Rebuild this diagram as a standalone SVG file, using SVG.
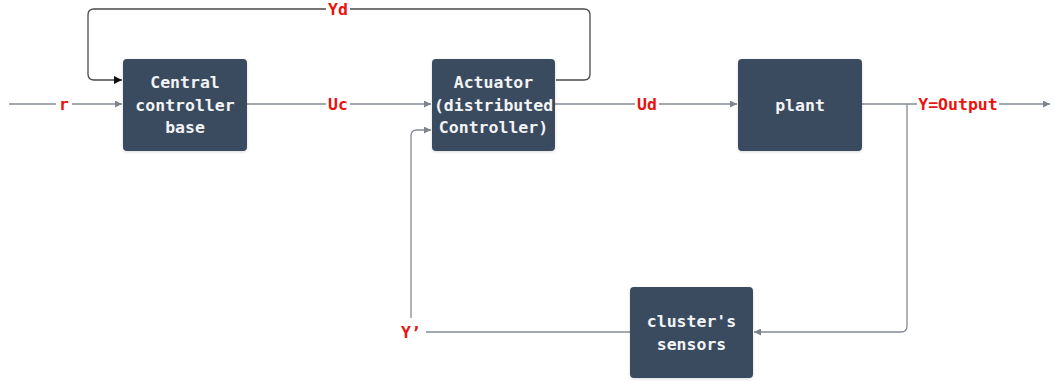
<svg xmlns="http://www.w3.org/2000/svg" width="1054" height="381" viewBox="0 0 1054 381">
<defs>
<marker id="ag" viewBox="0 0 10 10" refX="10" refY="5" markerWidth="7" markerHeight="7" markerUnits="userSpaceOnUse" orient="auto"><path d="M0,0 L10,5 L0,10 z" fill="#7d848d"/></marker>
<marker id="ab" viewBox="0 0 10 10" refX="10" refY="5" markerWidth="8" markerHeight="8" markerUnits="userSpaceOnUse" orient="auto"><path d="M0,0 L10,5 L0,10 z" fill="#111"/></marker>
<filter id="sh" x="-10%" y="-10%" width="120%" height="125%"><feDropShadow dx="0" dy="1" stdDeviation="1.5" flood-color="#000" flood-opacity="0.15"/></filter>
</defs>
<style>
.box{fill:#3a4b5f;filter:url(#sh)}
.t{font-family:"DejaVu Sans Mono","Liberation Mono",monospace;font-weight:bold;font-size:16.5px;fill:#f2f4f6;text-anchor:middle}
.l{font-family:"DejaVu Sans Mono","Liberation Mono",monospace;font-weight:bold;font-size:16.5px;fill:#e8140f;text-anchor:middle}
.c{fill:none;stroke:#858b93;stroke-width:1.3}
.d{fill:none;stroke:#4a4a4a;stroke-width:1.3}
.bg{fill:#fff}
</style>
<rect width="1054" height="381" fill="#fff"/>
<g id="connectors">
<path class="c" d="M9,104 H122" marker-end="url(#ag)"/>
<path class="c" d="M247,104 H431" marker-end="url(#ag)"/>
<path class="c" d="M555,104 H737" marker-end="url(#ag)"/>
<path class="c" d="M862,104 H1050" marker-end="url(#ag)"/>
<path class="c" d="M907,104 V326 Q907,332 901,332 H754" marker-end="url(#ag)"/>
<path class="c" d="M630,332 H426"/>
<path class="c" d="M411,318 V136 Q411,130 417,130 H431" marker-end="url(#ag)"/>
<path class="d" d="M556,80 H584 Q590,80 590,74 V15 Q590,9 584,9 H94 Q88,9 88,15 V74 Q88,80 94,80 H122" marker-end="url(#ab)"/>
<rect class="bg" x="56" y="95" width="16" height="18"/>
<text class="l" x="64" y="110">r</text>
<rect class="bg" x="326" y="95" width="24" height="18"/>
<text class="l" x="338" y="110">Uc</text>
<rect class="bg" x="635" y="95" width="24" height="18"/>
<text class="l" x="647" y="110">Ud</text>
<rect class="bg" x="326" y="0" width="24" height="18"/>
<text class="l" x="338" y="14.5">Yd</text>
<rect class="bg" x="917" y="95" width="82" height="18"/>
<text class="l" x="958" y="110">Y=Output</text>
<text class="l" x="411" y="338">Y’</text>
</g>
<g id="central">
<rect class="box" x="123" y="59" width="124" height="92" rx="4"/>
<text class="t" x="185" y="88">Central</text>
<text class="t" x="185" y="111">controller</text>
<text class="t" x="185" y="133">base</text>
</g>
<g id="actuator">
<rect class="box" x="432" y="59" width="123" height="92" rx="4"/>
<text class="t" x="493.5" y="88">Actuator</text>
<text class="t" x="493.5" y="111">(distributed</text>
<text class="t" x="493.5" y="133">Controller)</text>
</g>
<g id="plant">
<rect class="box" x="738" y="59" width="124" height="92" rx="4"/>
<text class="t" x="800" y="111">plant</text>
</g>
<g id="sensors">
<rect class="box" x="630" y="287" width="123" height="91" rx="4"/>
<text class="t" x="691.5" y="327">cluster's</text>
<text class="t" x="691.5" y="350">sensors</text>
</g>
</svg>
